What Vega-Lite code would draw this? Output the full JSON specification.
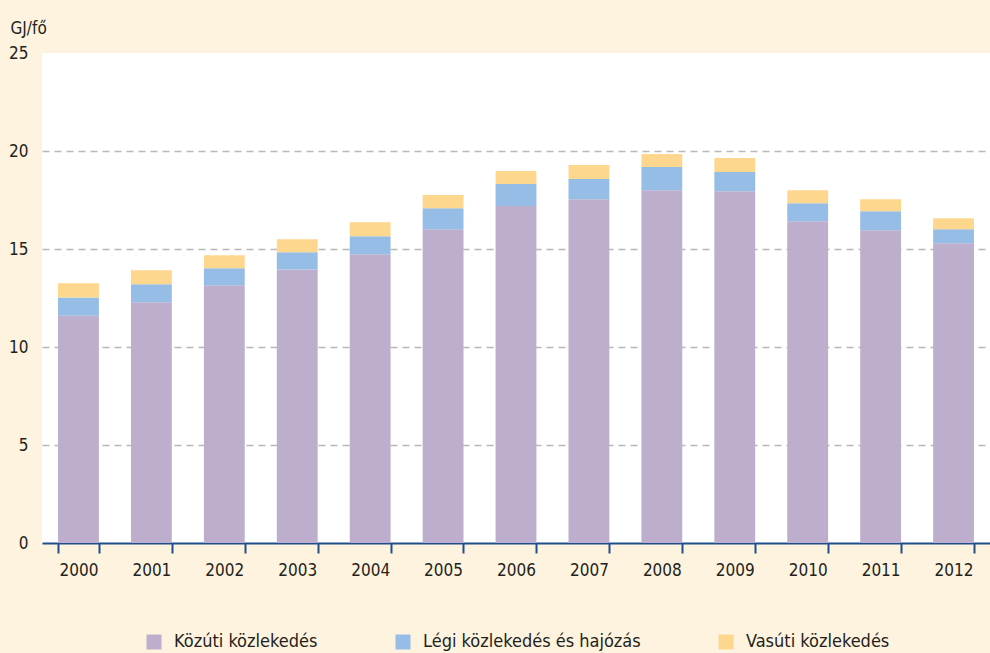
{
  "$schema": "https://vega.github.io/schema/vega-lite/v6.json",
  "autosize": {"type": "none"},
  "width": 948,
  "height": 490,
  "padding": {"left": 42, "top": 53, "right": 0, "bottom": 110},
  "background": "#fef3de",
  "view": {"fill": "white", "stroke": null},
  "config": {
    "font": "DejaVu Sans Condensed, Liberation Sans, sans-serif",
    "axis": {"labelFont": "DejaVu Sans Condensed, Liberation Sans, sans-serif", "titleFont": "DejaVu Sans Condensed, Liberation Sans, sans-serif", "labelColor": "#231f20", "titleColor": "#231f20"},
    "legend": {"labelFont": "DejaVu Sans Condensed, Liberation Sans, sans-serif"}
  },
  "data": {
    "values": [
      {"year": "2000", "type": "Közúti közlekedés", "ord": 1, "value": 11.6},
      {"year": "2000", "type": "Légi közlekedés és hajózás", "ord": 2, "value": 0.93},
      {"year": "2000", "type": "Vasúti közlekedés", "ord": 3, "value": 0.72},
      {"year": "2001", "type": "Közúti közlekedés", "ord": 1, "value": 12.28},
      {"year": "2001", "type": "Légi közlekedés és hajózás", "ord": 2, "value": 0.92},
      {"year": "2001", "type": "Vasúti közlekedés", "ord": 3, "value": 0.71},
      {"year": "2002", "type": "Közúti közlekedés", "ord": 1, "value": 13.15},
      {"year": "2002", "type": "Légi közlekedés és hajózás", "ord": 2, "value": 0.87},
      {"year": "2002", "type": "Vasúti közlekedés", "ord": 3, "value": 0.66},
      {"year": "2003", "type": "Közúti közlekedés", "ord": 1, "value": 13.96},
      {"year": "2003", "type": "Légi közlekedés és hajózás", "ord": 2, "value": 0.87},
      {"year": "2003", "type": "Vasúti közlekedés", "ord": 3, "value": 0.67},
      {"year": "2004", "type": "Közúti közlekedés", "ord": 1, "value": 14.73},
      {"year": "2004", "type": "Légi közlekedés és hajózás", "ord": 2, "value": 0.92},
      {"year": "2004", "type": "Vasúti közlekedés", "ord": 3, "value": 0.72},
      {"year": "2005", "type": "Közúti közlekedés", "ord": 1, "value": 16.01},
      {"year": "2005", "type": "Légi közlekedés és hajózás", "ord": 2, "value": 1.07},
      {"year": "2005", "type": "Vasúti közlekedés", "ord": 3, "value": 0.67},
      {"year": "2006", "type": "Közúti közlekedés", "ord": 1, "value": 17.19},
      {"year": "2006", "type": "Légi közlekedés és hajózás", "ord": 2, "value": 1.12},
      {"year": "2006", "type": "Vasúti közlekedés", "ord": 3, "value": 0.67},
      {"year": "2007", "type": "Közúti közlekedés", "ord": 1, "value": 17.54},
      {"year": "2007", "type": "Légi közlekedés és hajózás", "ord": 2, "value": 1.03},
      {"year": "2007", "type": "Vasúti közlekedés", "ord": 3, "value": 0.71},
      {"year": "2008", "type": "Közúti közlekedés", "ord": 1, "value": 18.0},
      {"year": "2008", "type": "Légi közlekedés és hajózás", "ord": 2, "value": 1.18},
      {"year": "2008", "type": "Vasúti közlekedés", "ord": 3, "value": 0.67},
      {"year": "2009", "type": "Közúti közlekedés", "ord": 1, "value": 17.95},
      {"year": "2009", "type": "Légi közlekedés és hajózás", "ord": 2, "value": 0.98},
      {"year": "2009", "type": "Vasúti közlekedés", "ord": 3, "value": 0.71},
      {"year": "2010", "type": "Közúti közlekedés", "ord": 1, "value": 16.42},
      {"year": "2010", "type": "Légi közlekedés és hajózás", "ord": 2, "value": 0.92},
      {"year": "2010", "type": "Vasúti közlekedés", "ord": 3, "value": 0.66},
      {"year": "2011", "type": "Közúti közlekedés", "ord": 1, "value": 15.96},
      {"year": "2011", "type": "Légi közlekedés és hajózás", "ord": 2, "value": 0.97},
      {"year": "2011", "type": "Vasúti közlekedés", "ord": 3, "value": 0.61},
      {"year": "2012", "type": "Közúti közlekedés", "ord": 1, "value": 15.29},
      {"year": "2012", "type": "Légi közlekedés és hajózás", "ord": 2, "value": 0.72},
      {"year": "2012", "type": "Vasúti közlekedés", "ord": 3, "value": 0.56}
    ]
  },
  "mark": {"type": "bar"},
  "encoding": {
    "x": {
      "field": "year",
      "type": "nominal",
      "scale": {"paddingInner": 0.44, "paddingOuter": 0.22},
      "axis": {
        "title": null,
        "labelAngle": 0,
        "labelFontSize": 17,
        "labelPadding": 9,
        "domainColor": "#1f4e8c",
        "domainWidth": 2,
        "tickColor": "#1f4e8c",
        "tickWidth": 2,
        "tickSize": 10,
        "tickBand": "extent",
        "grid": false
      }
    },
    "y": {
      "field": "value",
      "type": "quantitative",
      "stack": "zero",
      "scale": {"domain": [0, 25], "nice": false},
      "axis": {
        "values": [0, 5, 10, 15, 20, 25],
        "title": "GJ/fő",
        "titleAngle": 0,
        "titleAlign": "left",
        "titleBaseline": "alphabetic",
        "titleX": -32,
        "titleY": -20,
        "titleFontSize": 17,
        "titleFontWeight": "normal",
        "labelFontSize": 17,
        "labelPadding": 14,
        "domain": false,
        "ticks": false,
        "grid": true,
        "gridColor": "#b8b8b8",
        "gridWidth": 1.5,
        "gridDash": [7, 5],
        "gridOpacity": {"condition": {"test": "datum.value == 0 || datum.value == 25", "value": 0}, "value": 1}
      }
    },
    "color": {
      "field": "type",
      "type": "nominal",
      "scale": {
        "domain": ["Közúti közlekedés", "Légi közlekedés és hajózás", "Vasúti közlekedés"],
        "range": ["#bcaecc", "#95bde5", "#fed78e"]
      },
      "legend": {
        "title": null,
        "orient": "none",
        "direction": "horizontal",
        "legendX": 103,
        "legendY": 580,
        "symbolType": "square",
        "symbolSize": 225,
        "symbolStrokeWidth": 0,
        "symbolOpacity": 1,
        "labelFontSize": 18,
        "labelLimit": 0,
        "labelColor": "#231f20",
        "labelOffset": 11,
        "columnPadding": 76
      }
    },
    "order": {"field": "ord", "type": "quantitative"}
  }
}
